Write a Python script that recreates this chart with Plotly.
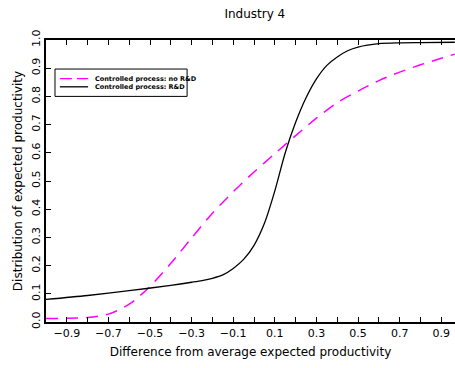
import plotly.graph_objects as go

# Data
x_nord = [-1.0, -0.9, -0.8, -0.7, -0.6, -0.5, -0.4, -0.3, -0.2, -0.1, 0.0, 0.1, 0.2, 0.3, 0.4, 0.5, 0.6, 0.7, 0.8, 0.9, 0.965]
y_nord = [0.012, 0.013, 0.016, 0.028, 0.063, 0.126, 0.208, 0.298, 0.386, 0.462, 0.532, 0.597, 0.661, 0.723, 0.778, 0.819, 0.856, 0.886, 0.912, 0.935, 0.95]

x_rd = [-1.0, -0.8, -0.6, -0.4, -0.3, -0.25, -0.2, -0.15, -0.1, -0.05, 0.0, 0.05, 0.1, 0.15, 0.2, 0.25, 0.3, 0.35, 0.4, 0.45, 0.5, 0.6, 0.7, 0.8, 0.965]
y_rd = [0.080, 0.094, 0.111, 0.130, 0.141, 0.147, 0.155, 0.167, 0.190, 0.222, 0.272, 0.350, 0.465, 0.600, 0.708, 0.795, 0.862, 0.910, 0.940, 0.962, 0.975, 0.987, 0.990, 0.991, 0.992]

series_names = ["Controlled process: no R&D", "Controlled process: R&D"]
series_colors = ["#FF00FF", "#000000"]

x_tickvals = [round(-1.0 + 0.1 * i, 1) for i in range(20)]
x_ticktext = [("%.1f" % v).replace("-", "\u2212") if round(abs(v) * 10) % 2 == 1 else "" for v in x_tickvals]
y_tickvals = [round(0.1 * i, 1) for i in range(11)]
y_ticktext = ["%.1f" % v for v in y_tickvals]

FONT = "DejaVu Sans, Verdana, sans-serif"

fig = go.Figure()
fig.add_trace(go.Scatter(x=x_nord, y=y_nord, mode="lines", name=series_names[0], showlegend=False,
                         line=dict(color=series_colors[0], width=1.5, dash="12px,8px", shape="spline", smoothing=0.8)))
fig.add_trace(go.Scatter(x=x_rd, y=y_rd, mode="lines", name=series_names[1], showlegend=False,
                         line=dict(color=series_colors[1], width=1.3, shape="spline", smoothing=0.8)))

# Compact legend (box, sample lines, labels) in paper coordinates
fig.add_shape(type="rect", xref="paper", yref="paper", x0=0.022, x1=0.345, y0=0.800, y1=0.897,
              line=dict(color="#000", width=1), fillcolor="white", layer="above")
legend_rows = [0.863, 0.834]
dashes = ["12px,5px", "solid"]
for name, col, yy, dsh in zip(series_names, series_colors, legend_rows, dashes):
    fig.add_shape(type="line", xref="paper", yref="paper", x0=0.034, x1=0.103, y0=yy, y1=yy,
                  line=dict(color=col, width=1.3, dash=dsh), layer="above")
    fig.add_annotation(xref="paper", yref="paper", x=0.114, y=yy, xanchor="left", yanchor="middle",
                       text="<b>" + name.replace("&", "&amp;") + "</b>", showarrow=False,
                       font=dict(size=6.5, family=FONT, color="#000"))

fig.update_layout(
    width=455, height=368,
    margin=dict(l=46, r=0, t=40, b=46),
    paper_bgcolor="white", plot_bgcolor="white",
    font=dict(family=FONT, size=11, color="#000"),
    title=dict(text="Industry 4", x=0.56, xanchor="center", y=1 - 14 / 368, yanchor="middle",
               yref="container", font=dict(size=12, family=FONT)),
    showlegend=False,
)
fig.update_xaxes(range=[-1.0, 0.966], showgrid=False, zeroline=False,
                 showline=True, linecolor="#000", linewidth=2, mirror="ticks",
                 ticks="inside", ticklen=5, tickwidth=1, tickcolor="#000",
                 tickvals=x_tickvals, ticktext=x_ticktext, tickfont=dict(size=11, family=FONT),
                 title=dict(text="Difference from average expected productivity", standoff=8,
                            font=dict(size=12, family=FONT)))
fig.update_yaxes(range=[0, 1.0], showgrid=False, zeroline=False,
                 showline=True, linecolor="#000", linewidth=2, mirror=False,
                 ticks="inside", ticklen=5, tickwidth=1, tickcolor="#000",
                 tickvals=y_tickvals, ticktext=y_ticktext, tickangle=-90, tickfont=dict(size=11, family=FONT),
                 title=dict(text="Distribution of expected productivity", standoff=4,
                            font=dict(size=12, family=FONT)))

fig.write_html("out.html")
